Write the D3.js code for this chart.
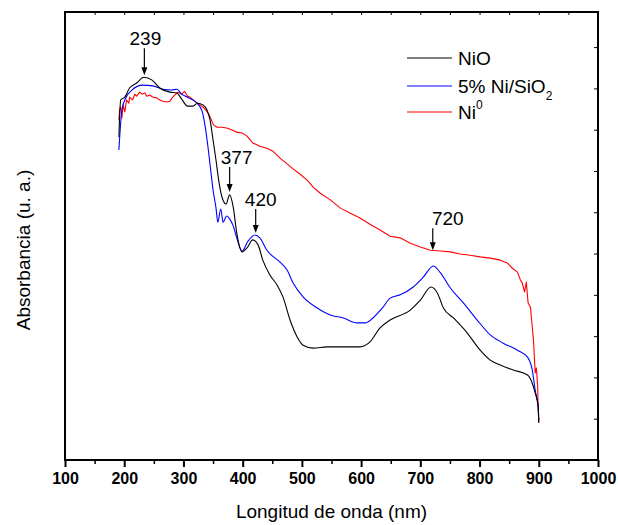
<!DOCTYPE html>
<html>
<head>
<meta charset="utf-8">
<script src="https://cdn.jsdelivr.net/npm/d3@7/dist/d3.min.js"></script>
<style>
  body { margin: 0; background: #ffffff; }
  svg text { font-family: Arial, "Liberation Sans", sans-serif; fill: #000; }
</style>
</head>
<body>
<div class="chart"></div>
<script>
'use strict';

/* Data: wavelength (nm) and absorbance (a.u.) */

var nioNm = [191, 194, 201, 209, 221, 233, 247, 260, 277, 289, 297, 307, 316, 324, 333, 340, 345, 350, 355, 360,
  365, 372, 378, 384, 390, 399, 407, 417, 426, 434, 446, 458, 468, 480, 492, 502, 519, 543, 576, 598,
  615, 632, 649, 683, 700, 718, 729, 739, 756, 779, 801, 818, 835, 857, 881, 889, 894, 899, 900];
var nioAbs = [0.782, 0.872, 0.879, 0.901, 0.913, 0.927, 0.920, 0.901, 0.891, 0.889, 0.874, 0.857, 0.857, 0.864, 0.860, 0.847, 0.823, 0.775, 0.726, 0.673,
  0.637, 0.620, 0.642, 0.613, 0.550, 0.504, 0.513, 0.533, 0.521, 0.484, 0.448, 0.424, 0.395, 0.339, 0.298, 0.278, 0.271, 0.274, 0.274, 0.274,
  0.286, 0.320, 0.339, 0.363, 0.387, 0.419, 0.404, 0.368, 0.344, 0.308, 0.266, 0.242, 0.230, 0.218, 0.206, 0.186, 0.162, 0.128, 0.090];

var niSiNm = [191, 196, 201, 213, 231, 248, 265, 280, 289, 297, 306, 323, 331, 336, 341, 346, 350, 355, 358, 363,
  367, 373, 378, 384, 390, 399, 409, 421, 429, 441, 463, 475, 485, 502, 526, 548, 570, 593, 607, 620,
  637, 649, 666, 688, 705, 722, 734, 751, 773, 796, 818, 840, 864, 881, 889, 894, 899, 900];
var niSiAbs = [0.751, 0.847, 0.872, 0.896, 0.908, 0.906, 0.898, 0.896, 0.898, 0.886, 0.879, 0.864, 0.847, 0.814, 0.763, 0.702, 0.654, 0.610, 0.576, 0.608,
  0.576, 0.591, 0.584, 0.567, 0.538, 0.506, 0.530, 0.545, 0.538, 0.508, 0.479, 0.460, 0.429, 0.395, 0.368, 0.351, 0.344, 0.332, 0.332, 0.344,
  0.370, 0.392, 0.400, 0.419, 0.443, 0.470, 0.453, 0.416, 0.380, 0.339, 0.303, 0.283, 0.266, 0.249, 0.218, 0.169, 0.128, 0.097];

var ni0Nm = [191, 192, 194, 196, 198, 201, 204, 208, 209, 214, 218, 221, 226, 230, 235, 238, 243, 248, 255, 260,
  265, 272, 277, 282, 287, 291, 297, 302, 307, 311, 319, 328, 333, 340, 345, 351, 357, 365, 373, 382,
  390, 399, 407, 417, 429, 441, 451, 463, 475, 485, 497, 509, 519, 531, 548, 565, 581, 598, 615, 632,
  649, 666, 683, 700, 717, 734, 751, 767, 784, 801, 818, 835, 847, 855, 864, 869, 872, 876, 879, 882,
  886, 889, 891, 894, 896, 898, 899, 900];
var ni0Abs = [0.823, 0.847, 0.855, 0.828, 0.860, 0.843, 0.872, 0.864, 0.879, 0.872, 0.886, 0.881, 0.891, 0.886, 0.889, 0.881, 0.884, 0.879, 0.877, 0.872,
  0.869, 0.867, 0.869, 0.879, 0.886, 0.891, 0.886, 0.893, 0.881, 0.879, 0.869, 0.860, 0.855, 0.843, 0.831, 0.811, 0.806, 0.806, 0.804, 0.799,
  0.794, 0.792, 0.785, 0.768, 0.760, 0.755, 0.748, 0.731, 0.717, 0.705, 0.692, 0.678, 0.661, 0.646, 0.630, 0.610, 0.598, 0.586, 0.571, 0.557,
  0.542, 0.538, 0.525, 0.516, 0.508, 0.506, 0.504, 0.499, 0.496, 0.492, 0.489, 0.484, 0.477, 0.465, 0.455, 0.436, 0.429, 0.407, 0.431, 0.380,
  0.370, 0.322, 0.291, 0.211, 0.223, 0.182, 0.128, 0.090];

var xTicks = [100, 200, 300, 400, 500, 600, 700, 800, 900, 1000];
var yTicks = [0.1, 0.2, 0.3, 0.4, 0.5, 0.6, 0.7, 0.8, 0.9, 1.0];

var peakLabels = ['239', '377', '420', '720'];
var peakNm = [234, 378, 422, 721];
var peakAbs = [0.932, 0.649, 0.550, 0.508];


/* Layout */

var width  = 618,
    height = 525;
var plot = { left: 65, top: 12, right: 598, bottom: 460 };

var svg = d3.select('.chart')
  .append('svg')
  .attr('width', width)
  .attr('height', height);

var x = d3.scaleLinear().domain([100, 1000]).range([plot.left, plot.right]);
var y = d3.scaleLinear().domain([0, 1.085]).range([plot.bottom, plot.top]);

var series = [
  { name: 'NiO',   nm: nioNm,  abs: nioAbs,  color: '#000000', curve: d3.curveMonotoneX },
  { name: 'NiSi',  nm: niSiNm, abs: niSiAbs, color: '#0000ff', curve: d3.curveMonotoneX },
  { name: 'Ni0',   nm: ni0Nm,  abs: ni0Abs,  color: '#ff0000', curve: d3.curveLinear }
];

// draw red first so black/blue sit on top like in the figure
[series[2], series[1], series[0]].forEach(function(s) {
  var line = d3.line()
    .curve(s.curve)
    .x(function(d) { return x(d[0]); })
    .y(function(d) { return y(d[1]); });
  svg.append('path')
    .datum(d3.zip(s.nm, s.abs))
    .attr('fill', 'none')
    .attr('stroke', s.color)
    .attr('stroke-width', 1.1)
    .attr('stroke-linejoin', 'round')
    .attr('d', line);
});

// Bottom axis: major and minor ticks
var xAxis = svg.append('g')
  .attr('transform', 'translate(0,' + plot.bottom + ')')
  .call(d3.axisBottom(x).tickValues(xTicks).tickSize(7).tickPadding(6).tickFormat(d3.format('d')));
xAxis.select('.domain').remove();
xAxis.selectAll('.tick line').attr('stroke-width', 2);
xAxis.selectAll('.tick text')
  .style('font-size', '16px')
  .style('font-weight', 'bold');

svg.append('g')
  .attr('transform', 'translate(0,' + plot.bottom + ')')
  .call(d3.axisBottom(x).tickValues(d3.range(150, 1000, 100)).tickSize(4).tickFormat(''))
  .call(function(g) { g.select('.domain').remove(); })
  .selectAll('.tick line').attr('stroke-width', 1.5);

// Top axis: small inward ticks
svg.append('g')
  .attr('transform', 'translate(0,' + plot.top + ')')
  .call(d3.axisBottom(x).tickValues(d3.range(150, 1000, 50)).tickSize(3).tickFormat(''))
  .call(function(g) { g.select('.domain').remove(); });

// Right axis: inward ticks
svg.append('g')
  .attr('transform', 'translate(' + plot.right + ',0)')
  .call(d3.axisLeft(y).tickValues(yTicks).tickSize(4).tickFormat(''))
  .call(function(g) { g.select('.domain').remove(); });

// Frame
svg.append('rect')
  .attr('x', plot.left)
  .attr('y', plot.top)
  .attr('width', plot.right - plot.left)
  .attr('height', plot.bottom - plot.top)
  .attr('fill', 'none')
  .attr('stroke', '#000')
  .attr('stroke-width', 2);

// Axis titles
svg.append('text')
  .attr('x', (plot.left + plot.right) / 2)
  .attr('y', 518)
  .attr('text-anchor', 'middle')
  .style('font-size', '19px')
  .text('Longitud de onda (nm)');

svg.append('text')
  .attr('transform', 'translate(30,' + 250 + ') rotate(-90)')
  .attr('text-anchor', 'middle')
  .style('font-size', '19px')
  .text('Absorbancia (u. a.)');

// Peak annotations (arrow length and text shift per label, in px)
var arrowLen = [27, 25, 24, 22];
var labelDx  = [1, 7, 5, 15];

peakLabels.forEach(function(label, i) {
  var px = x(peakNm[i]),
      tip = y(peakAbs[i]),
      top = tip - arrowLen[i];
  svg.append('line')
    .attr('x1', px).attr('x2', px)
    .attr('y1', top).attr('y2', tip - 6)
    .attr('stroke', '#000')
    .attr('stroke-width', 1.2);
  svg.append('path')
    .attr('d', 'M' + (px - 3) + ',' + (tip - 8) + 'L' + (px + 3) + ',' + (tip - 8) + 'L' + px + ',' + tip + 'Z')
    .attr('fill', '#000');
  svg.append('text')
    .attr('x', px + labelDx[i])
    .attr('y', top - 3)
    .attr('text-anchor', 'middle')
    .style('font-size', '19px')
    .text(label);
});

// Legend
var legend = svg.append('g').attr('transform', 'translate(407,58)');
var legendRows = legend.selectAll('g')
  .data(series).enter()
  .append('g')
    .attr('transform', function(d, i) { return 'translate(0,' + [0, 28, 54][i] + ')'; });

legendRows.append('line')
  .attr('x1', 0).attr('x2', 45)
  .attr('stroke', function(d) { return d.color; })
  .attr('stroke-width', 1);

var legendText = legendRows.append('text')
  .attr('x', 51)
  .attr('y', 7)
  .style('font-size', '19px');

legendText.each(function(d) {
  var t = d3.select(this);
  if (d.name === 'NiO') {
    t.text('NiO');
  } else if (d.name === 'NiSi') {
    t.append('tspan').text('5% Ni/SiO');
    t.append('tspan').attr('dy', 7).style('font-size', '12px').text('2');
  } else {
    t.append('tspan').text('Ni');
    t.append('tspan').attr('dy', -10).style('font-size', '12px').text('0');
  }
});
</script>
</body>
</html>
